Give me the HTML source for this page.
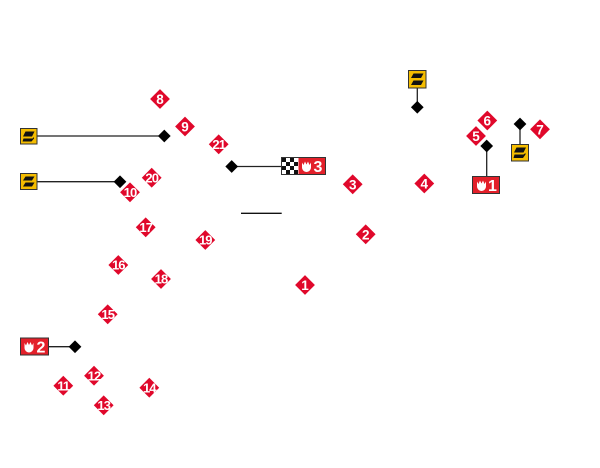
<!DOCTYPE html>
<html><head><meta charset="utf-8"><style>
html,body{margin:0;padding:0;background:#fff;}
svg{display:block;}
.d{fill:#e0082b;}
.t{fill:#fff;font-family:"Liberation Sans",sans-serif;font-weight:bold;font-size:13.5px;text-anchor:middle;}
.t2{fill:#fff;font-family:"Liberation Sans",sans-serif;font-weight:bold;font-size:13px;text-anchor:middle;letter-spacing:-0.9px;}
.bd{fill:#000;}
.ln{stroke:#222;stroke-width:1.3;fill:none;}
.yb{fill:#f5bd00;stroke:#333;stroke-width:1;}
.rb{fill:#e3202a;stroke:#333;stroke-width:1;}
.bt{fill:#fff;font-family:"Liberation Sans",sans-serif;font-weight:bold;font-size:16px;}
</style></head><body>
<svg width="600" height="468" viewBox="0 0 600 468" xmlns="http://www.w3.org/2000/svg">
<defs>
<g id="dm"><rect x="-7" y="-7" width="14" height="14" transform="rotate(45)" class="d"/></g>
<g id="bdm"><rect x="-4.5" y="-4.5" width="9" height="9" transform="rotate(45)" class="bd"/></g>
<g id="tul"><path d="M-4.5,-4 L-3,-1.5 L-1.5,-5 L0,-2 L1.5,-5 L3,-1.5 L4.5,-4 L4.5,1 A4.5,4.5 0 0 1 -4.5,1 Z" fill="#fff"/></g>
</defs>

<!-- lines -->
<line class="ln" x1="37" y1="136" x2="164" y2="136"/>
<line class="ln" x1="37" y1="181.7" x2="120" y2="181.7"/>
<line class="ln" x1="232" y1="166.5" x2="282" y2="166.5"/>
<line x1="241" y1="213.3" x2="281.7" y2="213.3" stroke="#111" stroke-width="1.3"/>
<line class="ln" x1="417.3" y1="88" x2="417.3" y2="107"/>
<line class="ln" x1="486.7" y1="146" x2="486.7" y2="177"/>
<line class="ln" x1="520" y1="124" x2="520" y2="144"/>
<line class="ln" x1="48" y1="346.7" x2="75" y2="346.7"/>

<!-- black diamonds -->
<use href="#bdm" x="164.3" y="136"/>
<use href="#bdm" x="120" y="181.7"/>
<use href="#bdm" x="231.7" y="166.5"/>
<use href="#bdm" x="417.3" y="107.3"/>
<use href="#bdm" x="486.7" y="146"/>
<use href="#bdm" x="520" y="124"/>
<use href="#bdm" x="75" y="346.7"/>

<!-- yellow boxes -->
<g transform="translate(20.5,128.5)">
<rect class="yb" width="16.5" height="15.5"/>
<path d="M5,3 L14,3 L11.5,8 L2.5,8 Z" fill="#111"/>
<path d="M3,10 L12,10 L13.5,8.5 L13.5,10 L11,13 L2,13 Z" fill="#111"/>
</g>
<g transform="translate(20.5,173.5)">
<rect class="yb" width="16.5" height="16"/>
<path d="M5,3 L14,3 L11.5,7 L2.5,7 Z" fill="#111"/>
<path d="M5,9 L14,9 L11.5,13 L2.5,13 Z" fill="#111"/>
</g>
<g transform="translate(408.5,70.5)">
<rect class="yb" width="17.5" height="17.5"/>
<path d="M5,3 L15,3 L12.5,7.5 L2.5,7.5 Z" fill="#111"/>
<path d="M5,10 L15,10 L12.5,14.5 L2.5,14.5 Z" fill="#111"/>
</g>
<g transform="translate(511.5,144.5)">
<rect class="yb" width="17" height="16.5"/>
<path d="M5,3 L14.5,3 L12,8 L2.5,8 Z" fill="#111"/>
<path d="M3,10 L12,10 L14,8.5 L14,10 L11.5,13.5 L2,13.5 Z" fill="#111"/>
</g>

<!-- red boxes -->
<g transform="translate(472.5,176.5)">
<rect class="rb" width="27" height="17"/>
<use href="#tul" x="9" y="9"/>
<text class="bt" x="15.5" y="14.5">1</text>
</g>
<g transform="translate(20.5,338)">
<rect class="rb" width="28" height="17"/>
<use href="#tul" x="8.5" y="9"/>
<text class="bt" x="16" y="14.5">2</text>
</g>
<g transform="translate(281.5,157.5)">
<rect width="44" height="17" fill="#fff" stroke="#333" stroke-width="1"/>
<g fill="#111">
<rect x="0.5" y="0.5" width="4" height="4"/><rect x="8.5" y="0.5" width="4" height="4"/>
<rect x="4.5" y="4.5" width="4" height="4"/><rect x="12.5" y="4.5" width="4" height="4"/>
<rect x="0.5" y="8.5" width="4" height="4"/><rect x="8.5" y="8.5" width="4" height="4"/>
<rect x="4.5" y="12.5" width="4" height="4"/><rect x="12.5" y="12.5" width="4" height="4"/>
</g>
<rect x="17" y="0.5" width="26.5" height="16" fill="#e3202a"/>
<use href="#tul" x="25" y="9"/>
<text class="bt" x="32" y="14.5">3</text>
</g>

<!-- numbered red diamonds -->
<g><use href="#dm" x="305" y="285"/><text class="t" x="305" y="290">1</text></g>
<g><use href="#dm" x="365.7" y="234.3"/><text class="t" x="365.7" y="239.3">2</text></g>
<g><use href="#dm" x="352.7" y="184.3"/><text class="t" x="352.7" y="189.3">3</text></g>
<g><use href="#dm" x="424.3" y="183.5"/><text class="t" x="424.3" y="188.5">4</text></g>
<g><use href="#dm" x="476" y="136"/><text class="t" x="476" y="141">5</text></g>
<g><use href="#dm" x="487.3" y="120.5"/><text class="t" x="487.3" y="125.5">6</text></g>
<g><use href="#dm" x="540" y="129.3"/><text class="t" x="540" y="134.3">7</text></g>
<g><use href="#dm" x="160" y="99"/><text class="t" x="160" y="104">8</text></g>
<g><use href="#dm" x="185" y="126.5"/><text class="t" x="185" y="131.5">9</text></g>
<g><use href="#dm" x="130" y="192.3"/><text class="t2" x="130" y="197">10</text></g>
<g><use href="#dm" x="63.3" y="385.7"/><text class="t2" x="63.3" y="390.4">11</text></g>
<g><use href="#dm" x="94" y="375.7"/><text class="t2" x="94" y="380.4">12</text></g>
<g><use href="#dm" x="103.7" y="405.3"/><text class="t2" x="103.7" y="410">13</text></g>
<g><use href="#dm" x="149.3" y="387.7"/><text class="t2" x="149.3" y="392.4">14</text></g>
<g><use href="#dm" x="107.7" y="314.3"/><text class="t2" x="107.7" y="319">15</text></g>
<g><use href="#dm" x="118.3" y="265"/><text class="t2" x="118.3" y="269.7">16</text></g>
<g><use href="#dm" x="145.7" y="227.3"/><text class="t2" x="145.7" y="232">17</text></g>
<g><use href="#dm" x="161" y="279"/><text class="t2" x="161" y="283.7">18</text></g>
<g><use href="#dm" x="205.3" y="240"/><text class="t2" x="205.3" y="244.7">19</text></g>
<g><use href="#dm" x="151.7" y="177.7"/><text class="t2" x="151.7" y="182.4">20</text></g>
<g><use href="#dm" x="218.7" y="144.3"/><text class="t2" x="218.7" y="149">21</text></g>
</svg>
</body></html>
